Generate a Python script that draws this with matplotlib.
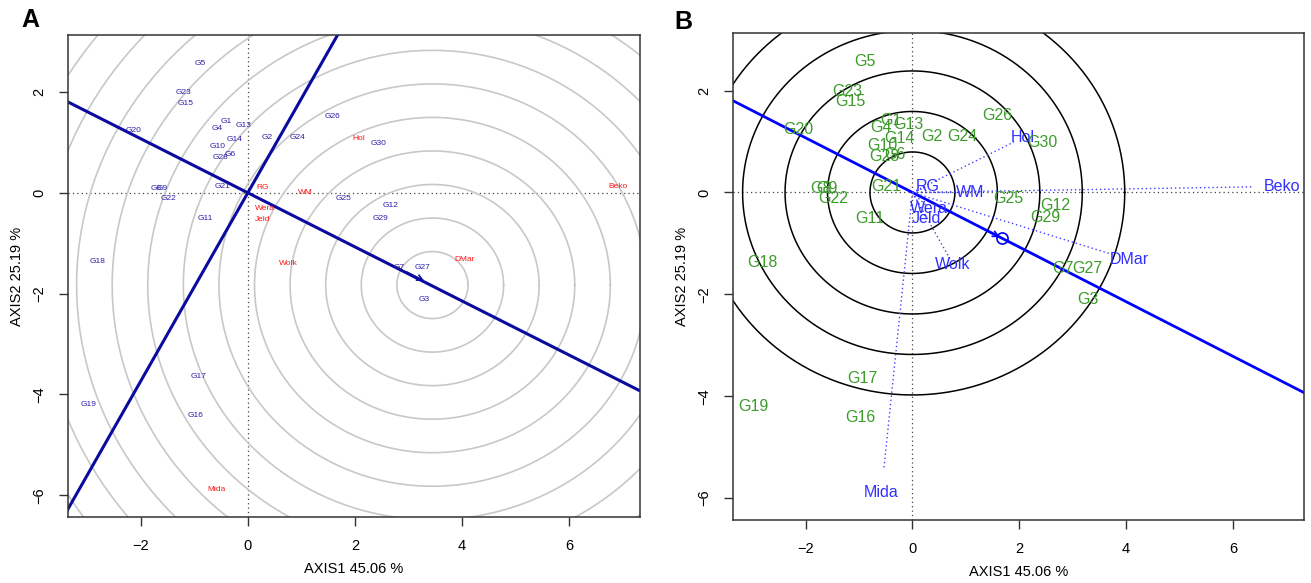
import numpy as np
import matplotlib
matplotlib.use('Agg')
import matplotlib.pyplot as plt

plt.rcParams['font.family'] = ['Liberation Sans', 'DejaVu Sans']

# genotype scores (axis1, axis2)
gen_names = ['G1', 'G2', 'G3', 'G4', 'G5', 'G6', 'G7', 'G8', 'G9', 'G10',
             'G11', 'G12', 'G13', 'G14', 'G15', 'G16', 'G17', 'G18', 'G19', 'G20',
             'G21', 'G22', 'G23', 'G24', 'G25', 'G26', 'G27', 'G28', 'G29', 'G30']
gen_x = [-0.41, 0.37, 3.29, -0.58, -0.88, -0.33, 2.82, -1.72, -1.60, -0.56,
         -0.79, 2.67, -0.08, -0.24, -1.16, -0.98, -0.93, -2.80, -2.97, -2.14,
         -0.48, -1.49, -1.21, 0.93, 1.79, 1.59, 3.27, -0.52, 2.48, 2.44]
gen_y = [1.42, 1.10, -2.11, 1.27, 2.57, 0.75, -1.49, 0.08, 0.08, 0.92,
         -0.51, -0.25, 1.34, 1.06, 1.78, -4.41, -3.65, -1.37, -4.20, 1.24,
         0.12, -0.12, 1.99, 1.10, -0.12, 1.51, -1.49, 0.70, -0.50, 0.98]

# environment scores
env_names = ['RG', 'WM', 'Hol', 'Beko', 'DMar', 'Wolk', 'Mida', 'Jeld', 'Wera']
env_x = [0.28, 1.08, 2.07, 6.92, 4.06, 0.76, -0.58, 0.27, 0.31]
env_y = [0.11, 0.00, 1.08, 0.12, -1.32, -1.41, -5.88, -0.52, -0.31]

ideal_x, ideal_y = 3.45, -1.83
ring_a = 0.665   # ring step around ideal genotype
ring_b = 0.795   # ring step around origin

xlim = (-3.36, 7.33)
ylim = (-6.43, 3.13)

# average environment coordinate -> AEC abscissa
aec_x = np.mean(env_x)
aec_y = np.mean(env_y)
d = np.array([aec_x, aec_y]) / np.hypot(aec_x, aec_y)
t = np.array([-30, 30])

theta = np.linspace(0, 2 * np.pi, 500)

fig = plt.figure(figsize=(13.11, 5.83), dpi=100)
axA = fig.add_axes([0.0519, 0.1132, 0.4363, 0.8268])
axB = fig.add_axes([0.5591, 0.1080, 0.4355, 0.8354])

for ax in (axA, axB):
    ax.set_xlim(*xlim)
    ax.set_ylim(*ylim)
    ax.axhline(0, color='#444444', ls=(0, (1, 2.5)), lw=0.9, zorder=1)
    ax.axvline(0, color='#444444', ls=(0, (1, 2.5)), lw=0.9, zorder=1)
    ax.set_xticks([-2, 0, 2, 4, 6])
    ax.set_yticks([-6, -4, -2, 0, 2])
    ax.set_yticklabels(['\u22126', '\u22124', '\u22122', '0', '2'], rotation=90, va='center')
    ax.set_xticklabels(['\u22122', '0', '2', '4', '6'])
    ax.tick_params(direction='out', length=6.5, width=1, labelsize=10.5, color='#333333')
    ax.tick_params(axis='x', pad=9)
    ax.tick_params(axis='y', pad=9)
    ax.set_xlabel('AXIS1 45.06 %', fontsize=10.5, labelpad=7)
    ax.set_ylabel('AXIS2 25.19 %', fontsize=10.5, labelpad=6)
    for s in ax.spines.values():
        s.set_color('#333333')
        s.set_linewidth(1.1)

# ---- panel A: ranking genotypes relative to the ideal genotype
for k in range(1, 16):
    r = k * ring_a
    axA.plot(ideal_x + r * np.cos(theta), ideal_y + r * np.sin(theta),
             color='#c8c8c8', lw=1.2, zorder=1)
axA.plot(t * d[0], t * d[1], color='#0a0aa0', lw=2.2, zorder=2)
axA.plot(-t * d[1], t * d[0], color='#0a0aa0', lw=2.2, zorder=2)
axA.annotate('', xy=(ideal_x - 0.12 * d[0], ideal_y - 0.12 * d[1]),
             xytext=(ideal_x - 0.6 * d[0], ideal_y - 0.6 * d[1]),
             arrowprops=dict(arrowstyle='->', color='#0a0aa0', lw=1.2), zorder=3)
for n, x, y in zip(gen_names, gen_x, gen_y):
    axA.text(x, y, n, color='#2a20a8', fontsize=6, ha='center', va='center', zorder=4)
for n, x, y in zip(env_names, env_x, env_y):
    axA.text(x, y, n, color='#ff1515', fontsize=6, ha='center', va='center', zorder=4)

# ---- panel B: discrimination vs representativeness
for k in range(1, 6):
    r = k * ring_b
    axB.plot(r * np.cos(theta), r * np.sin(theta), color='black', lw=1.1, zorder=1)
axB.plot(t * d[0], t * d[1], color='#0000ff', lw=2, zorder=2)
for n, x, y in zip(env_names, env_x, env_y):
    axB.plot([0, 0.92 * x], [0, 0.92 * y], color='#4040ff', ls=(0, (1, 2)), lw=1.0, zorder=2)
    axB.text(x, y, n, color='#3030ff', fontsize=11.5, ha='center', va='center', zorder=4)
axB.plot([aec_x], [aec_y], marker='o', ms=8, mfc='none', mec='#0000ff', mew=1.2, zorder=3)
axB.annotate('', xy=(aec_x, aec_y), xytext=(aec_x - 0.5 * d[0], aec_y - 0.5 * d[1]),
             arrowprops=dict(arrowstyle='->', color='#0000ff', lw=1.2), zorder=3)
for n, x, y in zip(gen_names, gen_x, gen_y):
    axB.text(x, y, n, color='#3c9b2a', fontsize=11.5, ha='center', va='center', zorder=4)

fig.text(30 / 1311, 1 - 20 / 583, 'A', fontsize=18, fontweight='bold', ha='center', va='center')
fig.text(683 / 1311, 1 - 22 / 583, 'B', fontsize=18, fontweight='bold', ha='center', va='center')

fig.savefig('out.png', dpi=100)
